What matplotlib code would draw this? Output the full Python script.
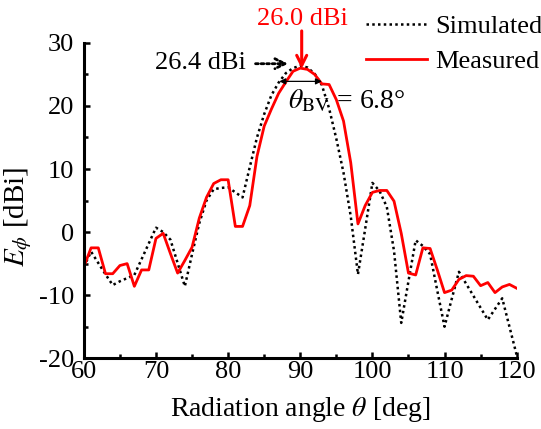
import numpy as np
import matplotlib
matplotlib.use("Agg")
import matplotlib.pyplot as plt
from matplotlib.lines import Line2D

plt.rcParams['font.family'] = ['Liberation Serif', 'DejaVu Serif']
plt.rcParams['mathtext.fontset'] = 'stix'
plt.rcParams['axes.unicode_minus'] = False

# DATA
angle = list(range(60, 121))

simulated = [-5.5, -3.1, -4.9, -6.7, -8.4, -7.8, -7.3, -6.8, -4.3, -1.8,
             0.7, 0.0, -1.2, -4.9, -8.6, -3.5, 1.4, 5.0, 6.8, 7.0,
             7.1, 6.3, 5.5, 10.3, 15.0, 18.7, 21.7, 23.7, 25.2, 26.0,
             26.4, 26.1, 25.1, 23.3, 19.6, 14.8, 9.4, 2.5, -6.7, 0.5,
             7.8, 6.5, 4.0, -3.0, -14.4, -7.8, -1.3, -2.2, -3.5, -9.3,
             -15.0, -10.6, -6.3, -8.2, -10.1, -12.0, -13.9, -12.2, -10.5, -15.0,
             -19.5]

measured = [-5.5, -2.5, -2.5, -6.6, -6.6, -5.3, -5.0, -8.6, -6.0, -6.0,
            -1.0, -0.2, -3.4, -6.5, -4.5, -2.4, 2.2, 5.5, 7.7, 8.3,
            8.3, 0.9, 0.9, 4.2, 12.0, 16.8, 19.5, 22.0, 23.8, 25.5,
            26.0, 25.8, 25.0, 23.5, 23.4, 21.0, 17.6, 11.0, 1.3, 4.2,
            6.3, 6.6, 6.6, 4.9, -0.2, -6.5, -6.8, -2.5, -2.6, -6.0,
            -9.6, -9.2, -7.5, -6.9, -7.0, -8.5, -8.0, -9.6, -8.7, -8.3,
            -8.9]

series_names = ["Simulated", "Measured"]
peak_sim = 26.4
peak_meas = 26.0
beamwidth = 6.8

# PLOT
fig = plt.figure(figsize=(5.41, 4.29), dpi=100)
ax = fig.add_axes([0.155, 0.165, 0.80, 0.735])

ax.plot(angle, simulated, color='black', linestyle=(0, (1, 1.3)), linewidth=1.8)
ax.plot(angle, measured, color='red', linewidth=2.0)

ax.set_xlim(60, 120)
ax.set_ylim(-20, 30)
ax.set_xticks([60, 70, 80, 90, 100, 110, 120])
ax.set_xticks([65, 75, 85, 95, 105, 115], minor=True)
ax.set_yticks([-20, -10, 0, 10, 20, 30])
ax.set_yticks([-15, -5, 5, 15, 25], minor=True)
ax.tick_params(which='both', direction='in', width=1.8, labelsize=19)
ax.tick_params(axis='x', pad=2)
ax.tick_params(axis='y', pad=7)
ax.tick_params(which='major', length=4)
ax.tick_params(which='minor', length=3)

for side in ['top', 'right']:
    ax.spines[side].set_visible(False)
for side in ['left', 'bottom']:
    ax.spines[side].set_linewidth(2.2)

ax.set_xlabel(r"Radiation angle $\theta$ [deg]", fontsize=20, labelpad=9)
ax.set_ylabel(r"$E_{\phi}$ [dBi]", fontsize=21)
ax.yaxis.set_label_coords(-0.115, 0.45)

# ANNOTATIONS
ax.text(90.3, 33.8, f"{peak_meas:.1f} dBi", color='red', fontsize=19,
        ha='center', va='center', clip_on=False)
ax.annotate("", xy=(90.2, 25.9), xytext=(90.2, 31.9), annotation_clip=False,
            arrowprops=dict(arrowstyle='->', color='red', lw=2.2,
                            mutation_scale=18, shrinkA=0, shrinkB=0))

ax.text(82.4, 26.8, f"{peak_sim:.1f} dBi", color='black', fontsize=19,
        ha='right', va='center')
ax.annotate("", xy=(88.3, 26.7), xytext=(83.8, 26.7),
            arrowprops=dict(arrowstyle='->', color='black', lw=2.0,
                            linestyle=(0, (1, 1)), mutation_scale=18,
                            shrinkA=0, shrinkB=0))

ax.annotate("", xy=(87.1, 23.9), xytext=(93.0, 23.9),
            arrowprops=dict(arrowstyle='<|-|>', color='black', lw=0.9,
                            mutation_scale=9, shrinkA=0, shrinkB=0))
ax.text(88.3, 20.8, r"$\theta_{\rm BV}$" + f" = {beamwidth}°", fontsize=20,
        ha='left', va='center')

# LEGEND
handles = [Line2D([], [], color='black', linestyle=(0, (1, 1.3)), linewidth=1.8),
           Line2D([], [], color='red', linewidth=2.0)]
fig.legend(handles, series_names, loc='upper right', bbox_to_anchor=(1.012, 0.978),
           frameon=False, fontsize=19, handlelength=2.3, handletextpad=0.3,
           labelspacing=0.42, borderaxespad=0.0, borderpad=0.2)

fig.savefig("out.png", dpi=100)
